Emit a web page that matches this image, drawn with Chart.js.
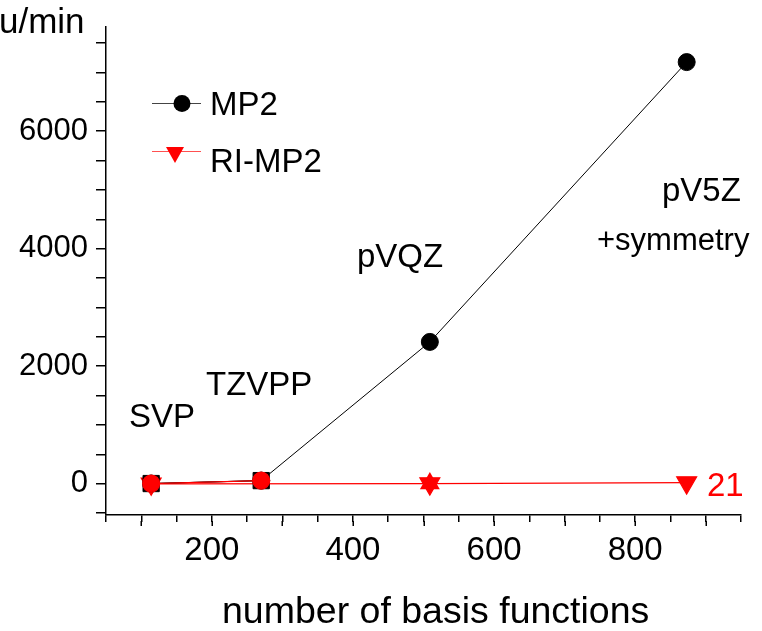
<!DOCTYPE html>
<html>
<head>
<meta charset="utf-8">
<script src="https://cdn.jsdelivr.net/npm/chart.js@4/dist/chart.umd.min.js"></script>
<style>
  body { margin: 0; background: #fff; }
  #wrap { width: 762px; height: 631px; }
</style>
</head>
<body>
<div id="wrap"><canvas id="cpuChart" width="762" height="631"></canvas></div>
<script>
// basis set sizes (number of basis functions)
const basisNames = ['SVP', 'TZVPP', 'pVQZ', 'pV5Z'];
const basisSize = [114, 270, 509, 873];

// CPU time in minutes
const mp2Time = [5, 55, 2414, 7173];
const mp2SquareTime = [5, 55];
const redCircleTime = [5, 55];
const riSize = [114, 509, 873];
const riTime = [1, 4, 21];
const riUpSize = [509];
const riUpTime = [4];

const xTickLabels = [200, 400, 600, 800];
const yTickLabels = [0, 2000, 4000, 6000];

const FONT = '"Liberation Sans", Arial, Helvetica, sans-serif';

function pts(xs, ys) {
    return xs.map((x, i) => ({ x: x, y: ys[i] }));
}

function stepTicks(from, to, step) {
    const out = [];
    for (let v = from; v <= to; v += step) out.push({ value: v });
    return out;
}

// text labels + legend drawn on top of the chart
const extras = {
    id: 'extras',
    afterDraw(chart) {
        const ctx = chart.ctx;
        const xs = chart.scales.x;
        ctx.save();

        // longer ticks at every 100
        ctx.strokeStyle = '#000';
        ctx.lineWidth = 1.5;
        xs.ticks.forEach(t => {
            if (t.value % 100 !== 0) return;
            const px = Math.round(xs.getPixelForValue(t.value)) + 0.25;
            ctx.beginPath(); ctx.moveTo(px, xs.top + 6); ctx.lineTo(px, xs.top + 11); ctx.stroke();
        });

        ctx.textBaseline = 'alphabetic';
        ctx.textAlign = 'left';
        ctx.fillStyle = '#000';
        ctx.font = '35px ' + FONT;
        ctx.fillText('u/min', -1, 33);
        ctx.font = '37.5px ' + FONT;
        ctx.fillText('number of basis functions', 222, 623);
        ctx.font = '33px ' + FONT;
        ctx.fillText('SVP', 129, 427);
        ctx.fillText('TZVPP', 206, 395);
        ctx.fillText('pVQZ', 357, 267);
        ctx.fillText('pV5Z', 662, 201);
        ctx.font = '31px ' + FONT;
        ctx.fillText('+symmetry', 597, 250);
        ctx.fillStyle = '#ff0000';
        ctx.font = '33px ' + FONT;
        ctx.fillText('21', 707, 496);

        // legend
        ctx.lineWidth = 1;
        ctx.strokeStyle = '#444';
        ctx.beginPath(); ctx.moveTo(152, 103.5); ctx.lineTo(201, 103.5); ctx.stroke();
        ctx.fillStyle = '#000';
        ctx.beginPath(); ctx.arc(182, 103.5, 8.5, 0, Math.PI * 2); ctx.fill();
        ctx.strokeStyle = '#ff5050';
        ctx.beginPath(); ctx.moveTo(152, 151.5); ctx.lineTo(201, 151.5); ctx.stroke();
        ctx.fillStyle = '#ff0000';
        ctx.beginPath();
        ctx.moveTo(166, 147); ctx.lineTo(184, 147); ctx.lineTo(175, 163); ctx.closePath();
        ctx.fill();
        ctx.fillStyle = '#000';
        ctx.font = '33px ' + FONT;
        ctx.fillText('MP2', 210, 115);
        ctx.fillText('RI-MP2', 210, 172);
        ctx.restore();
    }
};

const ctx = document.getElementById('cpuChart').getContext('2d');
const cpuChart = new Chart(ctx, {
    type: 'scatter',
    data: {
        datasets: [
            {
                label: 'circles',
                data: pts(basisSize.slice(0, 2), redCircleTime),
                showLine: true,
                borderColor: '#ff0000',
                backgroundColor: '#ff0000',
                borderWidth: 1.2,
                pointStyle: 'circle',
                pointRadius: 8.5,
                order: 1
            },
            {
                label: 'squares',
                data: pts(basisSize.slice(0, 2), mp2SquareTime),
                showLine: true,
                borderColor: '#000',
                backgroundColor: '#000',
                borderWidth: 1,
                pointStyle: 'rect',
                pointRadius: 11.5,
                order: 2
            },
            {
                label: 'RI-MP2',
                data: pts(riSize, riTime),
                showLine: true,
                borderColor: '#ff0000',
                backgroundColor: '#ff0000',
                borderWidth: 1.2,
                pointStyle: 'triangle',
                rotation: 180,
                pointRadius: 11.5,
                order: 3
            },
            {
                label: 'up',
                data: pts(riUpSize, riUpTime),
                showLine: false,
                borderColor: '#ff0000',
                backgroundColor: '#ff0000',
                pointStyle: 'triangle',
                pointRadius: 11.5,
                order: 3
            },
            {
                label: 'MP2',
                data: pts(basisSize, mp2Time),
                showLine: true,
                borderColor: '#000',
                backgroundColor: '#000',
                borderWidth: 1,
                pointStyle: 'circle',
                pointRadius: 8.5,
                order: 4
            }
        ]
    },
    options: {
        responsive: false,
        devicePixelRatio: 1,
        animation: false,
        events: [],
        layout: { padding: { left: 0, top: 27, right: 21, bottom: 0 } },
        plugins: {
            legend: { display: false },
            tooltip: { enabled: false }
        },
        elements: { point: { borderWidth: 0 } },
        scales: {
            x: {
                type: 'linear',
                min: 50,
                max: 950,
                afterFit: s => { s.height = 116; },
                afterBuildTicks: s => { s.ticks = stepTicks(50, 950, 50); },
                border: { display: true, color: '#000', width: 1.5 },
                grid: { drawOnChartArea: false, drawTicks: true, tickLength: 7, color: '#000', lineWidth: 1.5 },
                ticks: {
                    autoSkip: false,
                    maxRotation: 0,
                    padding: 9,
                    color: '#000',
                    font: { family: FONT, size: 33 },
                    callback: v => xTickLabels.includes(v) ? String(v) : ''
                }
            },
            y: {
                type: 'linear',
                min: -530,
                max: 7770,
                afterFit: s => { s.width = 106; },
                afterBuildTicks: s => { s.ticks = stepTicks(-500, 7500, 500); },
                border: { display: true, color: '#000', width: 1.5 },
                grid: { drawOnChartArea: false, drawTicks: true, tickLength: 10, color: '#000', lineWidth: 1.5 },
                ticks: {
                    autoSkip: false,
                    padding: 8,
                    color: '#000',
                    font: { family: FONT, size: 31 },
                    callback: v => yTickLabels.includes(v) ? String(v) : ''
                }
            }
        }
    },
    plugins: [extras]
});
</script>
</body>
</html>
